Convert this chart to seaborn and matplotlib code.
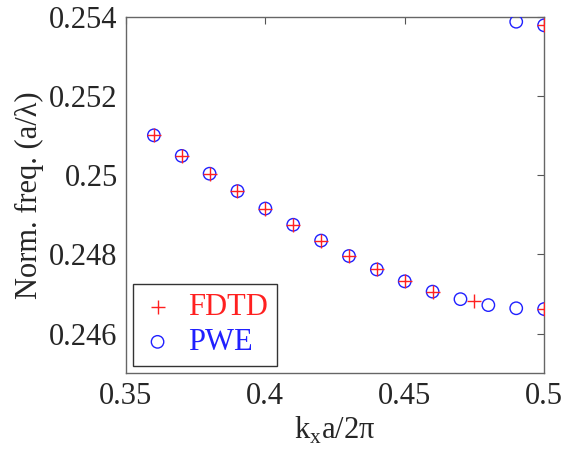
import matplotlib
matplotlib.use("Agg")
import matplotlib.pyplot as plt
import seaborn as sns
import pandas as pd

# PWE band (lower and upper branch)
pwe_k = [0.36, 0.37, 0.38, 0.39, 0.40, 0.41, 0.42, 0.43, 0.44, 0.45, 0.46, 0.47, 0.48, 0.49, 0.50, 0.49, 0.50]
pwe_f = [0.25101, 0.25049, 0.25004, 0.24960, 0.24916, 0.24875, 0.24835, 0.24796, 0.24762, 0.24732,
         0.24706, 0.24687, 0.24672, 0.24664, 0.24662, 0.25388, 0.25379]

# FDTD points
fdtd_k = [0.36, 0.37, 0.38, 0.39, 0.40, 0.41, 0.42, 0.43, 0.44, 0.45, 0.46, 0.475, 0.50, 0.50]
fdtd_f = [0.25101, 0.25049, 0.25004, 0.24960, 0.24916, 0.24875, 0.24835, 0.24796, 0.24762, 0.24732,
          0.24706, 0.24682, 0.24662, 0.25379]

x_ticks = [0.35, 0.4, 0.45, 0.5]
x_tick_labels = ["0.35", "0.4", "0.45", "0.5"]
y_ticks = [0.246, 0.248, 0.25, 0.252, 0.254]
y_tick_labels = ["0.246", "0.248", "0.25", "0.252", "0.254"]

sns.set_style("white")
plt.rcParams['font.family'] = ['Liberation Serif', 'DejaVu Serif']
plt.rcParams['mathtext.fontset'] = 'custom'
plt.rcParams['mathtext.rm'] = 'Liberation Serif'
plt.rcParams['xtick.direction'] = 'in'
plt.rcParams['ytick.direction'] = 'in'

df_pwe = pd.DataFrame({'k': pwe_k, 'f': pwe_f})
df_fdtd = pd.DataFrame({'k': fdtd_k, 'f': fdtd_f})

fig = plt.figure(figsize=(5.65, 4.59), dpi=100)
ax = fig.add_axes([0.223, 0.187, 0.74, 0.776])

sns.scatterplot(data=df_pwe, x='k', y='f', ax=ax, marker='o', s=80,
                facecolors='none', edgecolor='#2020ff', linewidth=1.0, label='PWE', zorder=3)
sns.scatterplot(data=df_fdtd, x='k', y='f', ax=ax, marker='+', s=90,
                color='#ff2020', linewidth=1.0, label='FDTD', zorder=4)

ax.set_xlim(0.35, 0.5)
ax.set_ylim(0.245, 0.254)
ax.set_xticks(x_ticks)
ax.set_xticklabels(x_tick_labels)
ax.set_yticks(y_ticks)
ax.set_yticklabels(y_tick_labels)
ax.tick_params(axis='both', labelsize=22, length=5, width=0.8, color='#555555',
               top=True, right=True, pad=6)
for sp in ax.spines.values():
    sp.set_color('#666666')
    sp.set_linewidth(1.0)

ax.set_xlabel(r'k$_{\mathrm{x}}$a/2π', fontsize=22, labelpad=3)
ax.set_ylabel('Norm. freq. (a/λ)', fontsize=22, labelpad=4)

handles, labels = ax.get_legend_handles_labels()
leg = ax.legend([handles[1], handles[0]], [labels[1], labels[0]],
                loc='lower left', bbox_to_anchor=(0.017, 0.02), borderaxespad=0,
                fontsize=22, frameon=True, fancybox=False, edgecolor='black',
                handlelength=1.0, handletextpad=0.5, borderpad=0.3, labelspacing=0.2)
leg.get_frame().set_linewidth(1.0)
for txt, c in zip(leg.get_texts(), ['#ff2020', '#2020ff']):
    txt.set_color(c)

fig.savefig('out.png', dpi=100)
